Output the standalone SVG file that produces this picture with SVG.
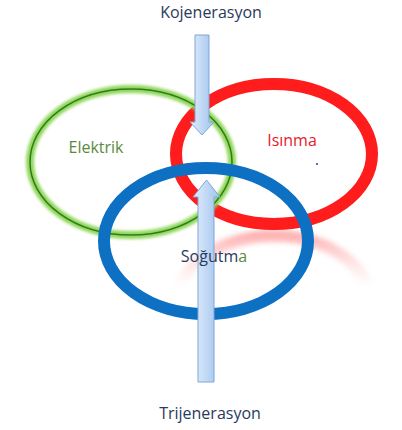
<svg xmlns="http://www.w3.org/2000/svg" width="402" height="430" viewBox="0 0 402 430">
<defs>
<linearGradient id="arrowFill" x1="0" y1="0" x2="1" y2="0">
<stop offset="0" stop-color="#e3eefb"/>
<stop offset="1" stop-color="#9fc3ee"/>
</linearGradient>
<linearGradient id="reflFade" gradientUnits="userSpaceOnUse" x1="0" y1="232" x2="0" y2="285">
<stop offset="0" stop-color="#ff5a5a" stop-opacity="0.5"/>
<stop offset="0.6" stop-color="#ff8080" stop-opacity="0.2"/>
<stop offset="1" stop-color="#ff8080" stop-opacity="0"/>
</linearGradient>
<filter id="glow" x="-10%" y="-10%" width="120%" height="120%">
<feGaussianBlur stdDeviation="1.5"/>
</filter>
<filter id="soft" x="-10%" y="-10%" width="120%" height="120%">
<feGaussianBlur stdDeviation="0.6"/>
</filter>
<filter id="blurRefl" x="-10%" y="-30%" width="120%" height="160%">
<feGaussianBlur stdDeviation="2.5"/>
</filter>
<clipPath id="reflClip"><rect x="150" y="230" width="252" height="60"/></clipPath>
</defs>
<style>
.lbl{font-family:"Open Sans","Liberation Sans",sans-serif;font-size:16px}
.navy{fill:#2a3a5c}
.arrow{fill:url(#arrowFill);stroke:#7fa6d6;stroke-width:1}
</style>
<rect width="402" height="430" fill="#ffffff"/>

<g id="reflection" clip-path="url(#reflClip)">
<ellipse cx="274" cy="306" rx="98" ry="70" fill="none" stroke="url(#reflFade)" stroke-width="12" filter="url(#blurRefl)"/>
</g>

<g id="isinma">
<ellipse cx="274" cy="154" rx="98" ry="70" fill="none" stroke="#ff1a1a" stroke-width="12" filter="url(#soft)"/>
<text class="lbl" x="292" y="146" text-anchor="middle" fill="#e8202a">Isınma</text>
<circle cx="317" cy="164" r="1" fill="#2a3a8c"/>
</g>

<g id="elektrik">
<ellipse cx="131" cy="162" rx="101" ry="73" fill="none" stroke="#8fd65a" stroke-width="8" filter="url(#glow)"/>
<ellipse cx="131" cy="162" rx="101" ry="73" fill="none" stroke="#2f7d1a" stroke-width="1.5"/>
<text class="lbl" x="96" y="153" text-anchor="middle" fill="#5b8a3c">Elektrik</text>
</g>

<g id="sogutma">
<ellipse cx="206" cy="241" rx="102" ry="73" fill="none" stroke="#0a6fc2" stroke-width="12" filter="url(#soft)"/>
</g>

<g id="connectors">
<path class="arrow" d="M195,35 H209 V122 H214 L202,135 L190,122 H195 Z"/>
<path class="arrow" d="M198,382 V197 H193 L206.5,180 L220,197 H214 V382 Z"/>
</g>

<g id="sogutma-label">
<text class="lbl" x="214" y="262" text-anchor="middle"><tspan class="navy">Soğutm</tspan><tspan fill="#5b8a3c">a</tspan></text>
</g>

<g id="kojenerasyon">
<text class="lbl navy" x="211" y="18" text-anchor="middle">Kojenerasyon</text>
</g>
<g id="trijenerasyon">
<text class="lbl navy" x="210" y="419" text-anchor="middle">Trijenerasyon</text>
</g>
</svg>
